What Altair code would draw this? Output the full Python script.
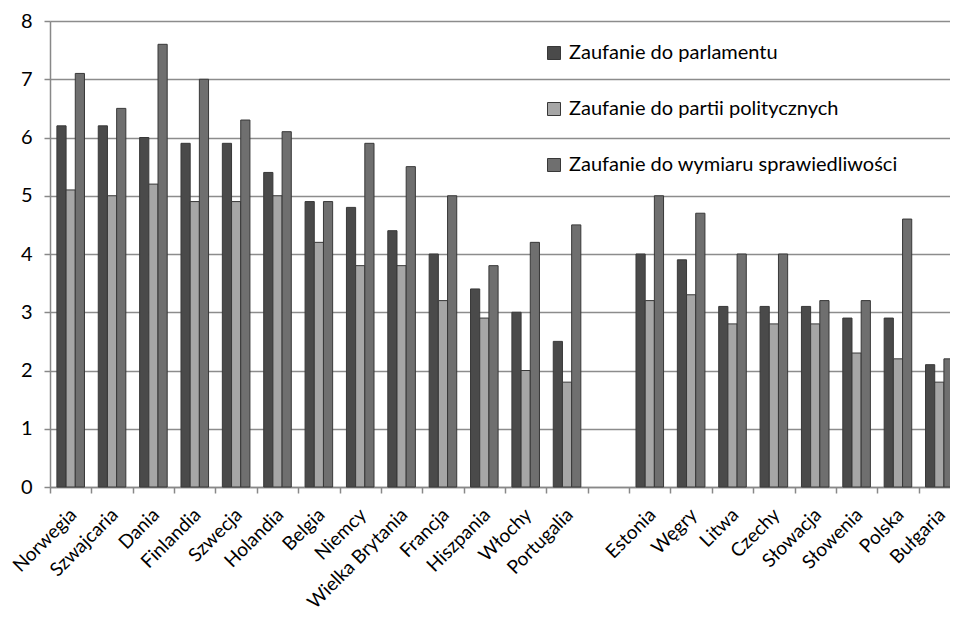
import altair as alt
import pandas as pd

countries = ["Norwegia", "Szwajcaria", "Dania", "Finlandia", "Szwecja", "Holandia",
             "Belgia", "Niemcy", "Wielka Brytania", "Francja", "Hiszpania", "Włochy",
             "Portugalia", " ", "Estonia", "Węgry", "Litwa", "Czechy", "Słowacja",
             "Słowenia", "Polska", "Bułgaria"]
parlament = [6.2, 6.2, 6.0, 5.9, 5.9, 5.4, 4.9, 4.8, 4.4, 4.0, 3.4, 3.0, 2.5, None,
             4.0, 3.9, 3.1, 3.1, 3.1, 2.9, 2.9, 2.1]
partie = [5.1, 5.0, 5.2, 4.9, 4.9, 5.0, 4.2, 3.8, 3.8, 3.2, 2.9, 2.0, 1.8, None,
          3.2, 3.3, 2.8, 2.8, 2.8, 2.3, 2.2, 1.8]
sprawiedliwosc = [7.1, 6.5, 7.6, 7.0, 6.3, 6.1, 4.9, 5.9, 5.5, 5.0, 3.8, 4.2, 4.5, None,
                  5.0, 4.7, 4.0, 4.0, 3.2, 3.2, 4.6, 2.2]
series = ["Zaufanie do parlamentu", "Zaufanie do partii politycznych",
          "Zaufanie do wymiaru sprawiedliwości"]
colors = ["#4a4a4a", "#a6a6a6", "#6f6f6f"]

rows = []
for i, c in enumerate(countries):
    for s, vals in zip(series, [parlament, partie, sprawiedliwosc]):
        if vals[i] is not None:
            rows.append({"kraj": c, "seria": s, "wartosc": vals[i]})
df = pd.DataFrame(rows)

FONT = "Lato"
W = 910
step = W / len(countries)

chart = alt.Chart(df).mark_bar(stroke="#383838", strokeWidth=1).encode(
    x=alt.X("kraj:N", sort=countries,
            scale=alt.Scale(domain=countries, paddingInner=1/3, paddingOuter=1/6),
            axis=alt.Axis(title=None, labelAngle=-45, labelAlign="right",
                          labelBaseline="top", labelFontSize=19, labelFont=FONT,
                          labelColor="#000", tickOffset=-step / 2,
                          labelOffset=step / 2 - 4, tickSize=6, tickColor="#888",
                          domainColor="#888", domainWidth=1.5, tickWidth=1.5,
                          labelPadding=12, grid=False, labelOverlap=False)),
    xOffset=alt.XOffset("seria:N", sort=series, scale=alt.Scale(paddingInner=0, paddingOuter=0)),
    y=alt.Y("wartosc:Q", scale=alt.Scale(domain=[0, 8], nice=False),
            axis=alt.Axis(title=None, values=list(range(9)), labelFontSize=20,
                          labelFont=FONT, labelColor="#000", tickSize=6,
                          tickColor="#888", tickWidth=1.5, domainColor="#888",
                          domainWidth=1.5, gridColor="#8c8c8c", gridWidth=1.5,
                          labelPadding=12)),
    color=alt.Color("seria:N", sort=series,
                    scale=alt.Scale(domain=series, range=colors),
                    legend=alt.Legend(title=None, orient="none", legendX=494,
                                      legendY=22, symbolType="square",
                                      symbolSize=169, symbolStrokeColor="#383838",
                                      symbolStrokeWidth=1, labelFontSize=20,
                                      labelFont=FONT, labelColor="#000",
                                      labelLimit=500, rowPadding=36,
                                      labelOffset=5, symbolOpacity=1)),
).properties(
    width=W, height=466,
    autosize=alt.AutoSizeParams(type="none"),
    padding={"left": 42, "top": 13, "right": -10, "bottom": 130},
).configure_view(stroke=None)

chart.save("out.html", embed_options={"renderer": "svg", "actions": False})
